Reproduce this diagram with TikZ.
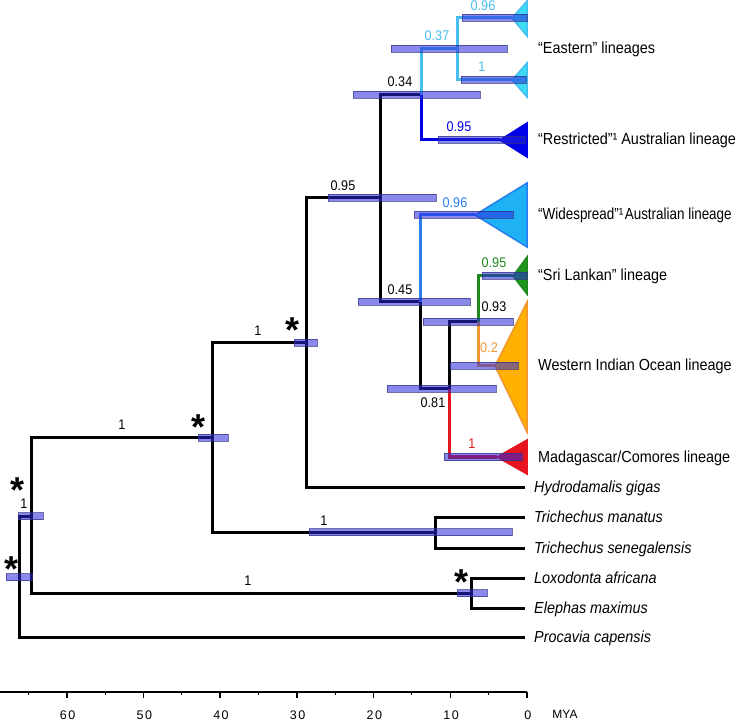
\documentclass[tikz,border=0pt]{standalone}
\usepackage{fontspec}
\setmainfont{Liberation Sans}
\newfontfamily\narrowfont[FakeStretch=0.9]{Liberation Sans}
\newfontfamily\tightfont[FakeStretch=0.84]{Liberation Sans}
\newfontfamily\axisfont[LetterSpace=12]{Liberation Sans}
\usetikzlibrary{positioning}

\definecolor{eastline}{RGB}{70,190,240}
\definecolor{eastfill}{RGB}{60,220,245}
\definecolor{restrcol}{RGB}{0,0,230}
\definecolor{wideline}{RGB}{40,125,240}
\definecolor{widefill}{RGB}{30,178,245}
\definecolor{sricol}{RGB}{30,135,30}
\definecolor{srifill}{RGB}{30,150,30}
\definecolor{wioline}{RGB}{240,150,50}
\definecolor{wiofill}{RGB}{255,176,0}
\definecolor{madacol}{RGB}{230,20,30}
\definecolor{hpdblue}{RGB}{40,40,220}
\definecolor{hpdedge}{RGB}{50,50,130}

\begin{document}
\begin{tikzpicture}[x=1pt,y=-1pt,
    branch/.style={line width=3pt},
    hpd/.style={fill=hpdblue,fill opacity=0.55,draw=hpdedge,draw opacity=0.7,line width=0.6pt},
    clade/.style={line width=1.5pt,line join=miter},
    pp/.style={font=\narrowfont\fontsize{14}{14}\selectfont,inner sep=0pt,text height=10pt,text depth=0pt},
    lineage/.style={font=\narrowfont\fontsize{16}{16}\selectfont,inner sep=0pt,anchor=west,text height=10pt,text depth=0pt},
    species/.style={lineage,font=\narrowfont\itshape\fontsize{16}{16}\selectfont},
    supp/.style={font=\fontsize{36}{36}\selectfont\bfseries,inner sep=0pt,text height=0.3em,text depth=0pt},
    axlab/.style={font=\axisfont\fontsize{12.5}{12.5}\selectfont,inner sep=0pt,anchor=base}]

  \useasboundingbox (0,0) rectangle (740,722);

  \coordinate (R)  at (19,577);
  \coordinate (N1) at (31,516);
  \coordinate (N2) at (212,438);
  \coordinate (H)  at (306,343);
  \coordinate (A)  at (380,198);
  \coordinate (B)  at (421,95);
  \coordinate (C)  at (457,49);
  \coordinate (D)  at (420,302);
  \coordinate (E)  at (449,389);
  \coordinate (F)  at (478,322);
  \coordinate (Tr) at (435,532);
  \coordinate (El) at (471,593);

  \coordinate (east1) at (512,18);
  \coordinate (east2) at (512,80);
  \coordinate (restr) at (500,140);
  \coordinate (wide)  at (475,215);
  \coordinate (sri)   at (513,276);
  \coordinate (wio)   at (495,366);
  \coordinate (mada)  at (497,457);
  \coordinate (hydro) at (525,487);
  \coordinate (tman)  at (525,517);
  \coordinate (tsen)  at (525,548);
  \coordinate (loxo)  at (525,578);
  \coordinate (elep)  at (525,608);
  \coordinate (proc)  at (525,637);

  \draw[branch] (R) |- (N1);  \draw[branch] (R) |- (proc);
  \draw[branch] (N1) |- (N2); \draw[branch] (N1) |- (El);
  \draw[branch] (N2) |- (H);  \draw[branch] (N2) |- (Tr);
  \draw[branch] (H) |- (A);   \draw[branch] (H) |- (hydro);
  \draw[branch] (A) |- (B);   \draw[branch] (A) |- (D);
  \draw[branch] (D) |- (E);   \draw[branch] (E) |- (F);
  \draw[branch] (Tr) |- (tman); \draw[branch] (Tr) |- (tsen);
  \draw[branch] (El) |- (loxo); \draw[branch] (El) |- (elep);

  \draw[branch,eastline] (B) |- (C);
  \draw[branch,eastline] (C) |- (east1);
  \draw[branch,eastline] (C) |- (east2);
  \draw[branch,restrcol] (B) |- (restr);
  \draw[branch,wideline] (D) |- (wide);
  \draw[branch,sricol]   (F) |- (sri);
  \draw[branch,wioline]  (F) |- (wio);
  \draw[branch,madacol]  (E) |- (mada);

  \filldraw[clade,draw=eastline,fill=eastfill] (east1) -- (527,1) -- (527,36) -- cycle;
  \filldraw[clade,draw=eastline,fill=eastfill] (east2) -- (527,63) -- (527,97) -- cycle;
  \filldraw[clade,draw=restrcol,fill=restrcol] (restr) -- (527,123) -- (527,157) -- cycle;
  \filldraw[clade,draw=wideline,fill=widefill] (wide) -- (527,183) -- (527,247) -- cycle;
  \filldraw[clade,draw=sricol,fill=srifill]    (sri) -- (527,257) -- (527,294) -- cycle;
  \filldraw[clade,draw=wioline,fill=wiofill]   (wio) -- (527,302) -- (527,432) -- cycle;
  \filldraw[clade,draw=madacol,fill=madacol]   (mada) -- (527,440) -- (527,474) -- cycle;

  \foreach \a/\b/\y in {462/527/18, 461/526/80, 391/507/49, 353/480/95, 438/525/140,
      328/436/198, 414/513/215, 358/470/302, 423/513/322, 482/527/276, 450/518/366,
      387/496/389, 444/522/457, 294/317/343, 198/228/438, 309/512/532, 18/43/516,
      6/32/577, 457/487/593}
    \draw[hpd] (\a,\y-3.5) rectangle (\b,\y+3.5);

  \node[pp,text=eastline] (pp1) at (483,6)   {0.96};
  \node[pp,text=eastline] (pp2) at (437,36)  {0.37};
  \node[pp,text=eastline] (pp3) at (482,67)  {1};
  \node[pp]               (pp4) at (400,82)  {0.34};
  \node[pp,text=restrcol] (pp5) at (459,127) {0.95};
  \node[pp]               (pp6) at (343,186) {0.95};
  \node[pp,text=wideline] (pp7) at (455,203) {0.96};
  \node[pp,text=sricol]   (pp8) at (494,263) {0.95};
  \node[pp]               (pp9) at (400,290) {0.45};
  \node[pp]               (pp10) at (494,307) {0.93};
  \node[pp,text=wioline]  (pp11) at (489,348) {0.2};
  \node[pp]               (pp12) at (433,403) {0.81};
  \node[pp,text=madacol]  (pp13) at (472,444) {1};
  \node[pp]               (pp14) at (258,331) {1};
  \node[pp]               (pp15) at (122,425) {1};
  \node[pp]               (pp16) at (24,503)  {1};
  \node[pp]               (pp17) at (324,520) {1};
  \node[pp]               (pp18) at (248,580) {1};

  \node[supp] (st1) at (293,326) {\raisebox{-0.42em}{*}};
  \node[supp] (st2) at (199,423) {\raisebox{-0.42em}{*}};
  \node[supp] (st3) at (18,486)  {\raisebox{-0.42em}{*}};
  \node[supp] (st4) at (12,565)  {\raisebox{-0.42em}{*}};
  \node[supp] (st5) at (462,578) {\raisebox{-0.42em}{*}};

  \node[lineage] (eastlab)  at (538,49)  {“Eastern” lineages};
  \node[lineage] (restrlab) at (538,140) {“Restricted”¹ Australian lineage};
  \node[lineage,font=\tightfont\fontsize{16}{16}\selectfont] (widelab) at (538,215) {“Widespread”¹\hspace{1.5pt}Australian lineage};
  \node[lineage] (srilab)   at (538,276) {“Sri Lankan” lineage};
  \node[lineage] (wiolab)   at (538,366) {Western Indian Ocean lineage};
  \node[lineage] (madalab)  at (538,457) {Madagascar/Comores lineage};

  \node[species,right=9pt of hydro] (hydrolab) {Hydrodamalis gigas};
  \node[species,right=9pt of tman]  (tmanlab)  {Trichechus manatus};
  \node[species,right=9pt of tsen]  (tsenlab)  {Trichechus senegalensis};
  \node[species,right=9pt of loxo]  (loxolab)  {Loxodonta africana};
  \node[species,right=9pt of elep]  (eleplab)  {Elephas maximus};
  \node[species,right=9pt of proc]  (proclab)  {Procavia capensis};

  \coordinate (axL) at (0,692);
  \coordinate (axR) at (527,692);
  \draw[line width=2pt] (axL) -- (axR);
  \foreach \t in {0,10,...,60} {
    \draw[line width=1.5pt] (527-7.67*\t,692) -- ++(0,6);
    \node[axlab] (tick\t) at (527-7.67*\t+0.8,719.5) {\t};
  }
  \foreach \t in {5,15,...,65}
    \draw[line width=1pt] (527-7.67*\t,692) -- ++(0,2.5);
  \node[inner sep=0pt,anchor=base,font=\fontsize{12}{12}\selectfont] (mya) at (565,718.5) {MYA};
\end{tikzpicture}
\end{document}
